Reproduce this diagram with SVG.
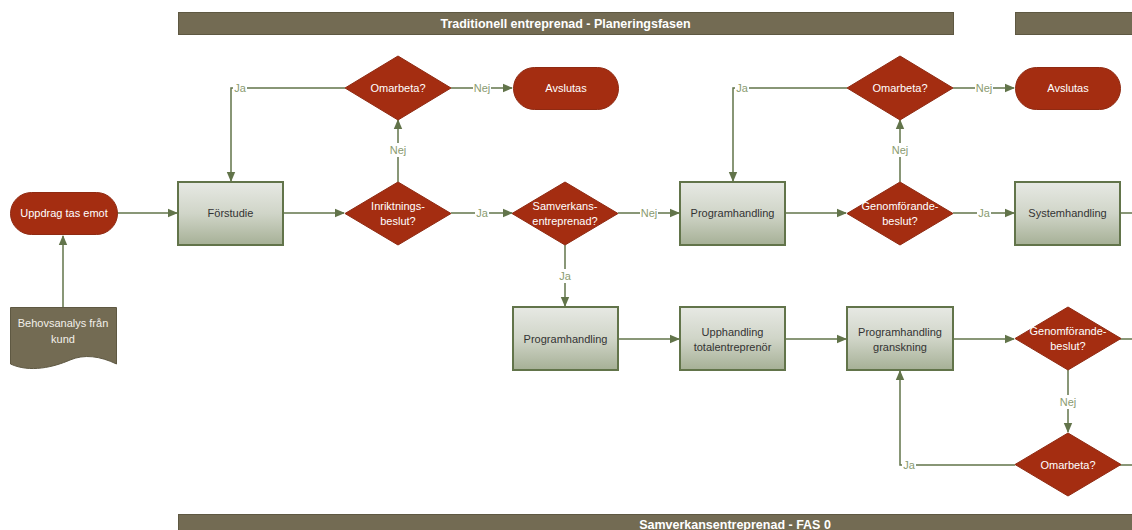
<svg xmlns="http://www.w3.org/2000/svg" width="1132" height="530" viewBox="0 0 1132 530">
  <style>
    .banner { fill: #736b53; stroke: #5e5842; stroke-width: 1; }
    .banner-text { font-family: "Liberation Sans", Arial, sans-serif; font-size: 12.5px; font-weight: bold; fill: #ffffff; text-anchor: middle; }
    .proc { fill: url(#procGrad); stroke: #62744a; stroke-width: 2; }
    .decision { fill: #a42d11; stroke: #8f2a12; stroke-width: 1; }
    .term { fill: #a42d11; stroke: #8f2a12; stroke-width: 1; }
    .doc { fill: #736b53; stroke: #5e5842; stroke-width: 1; }
    .t-dark { font-family: "Liberation Sans", Arial, sans-serif; font-size: 11px; fill: #333333; text-anchor: middle; }
    .t-light { font-family: "Liberation Sans", Arial, sans-serif; font-size: 11px; fill: #ffffff; text-anchor: middle; }
    .t-doc { font-family: "Liberation Sans", Arial, sans-serif; font-size: 11px; fill: #f2f0ea; text-anchor: middle; }
    .edge { fill: none; stroke: #62744a; stroke-width: 1.5; }
    .arrow { fill: none; stroke: #62744a; stroke-width: 1.5; marker-end: url(#arrowHead); }
    .lbl-bg { fill: #ffffff; }
    .lbl { font-family: "Liberation Sans", Arial, sans-serif; font-size: 11px; fill: #8a9b70; text-anchor: middle; }
  </style>
  <defs>
    <linearGradient id="procGrad" x1="0" y1="0" x2="0" y2="1">
      <stop offset="0" stop-color="#e7e9e4"/>
      <stop offset="0.5" stop-color="#d0d5c8"/>
      <stop offset="1" stop-color="#a6b096"/>
    </linearGradient>
    <marker id="arrowHead" markerWidth="10" markerHeight="10" refX="9" refY="5" orient="auto" markerUnits="userSpaceOnUse">
      <path d="M0,0.8 L10,5 L0,9.2 Z" fill="#62744a"/>
    </marker>
  </defs>

  <!-- Phase banners -->
  <g id="banner-planering">
    <rect class="banner" x="178.5" y="12.5" width="775" height="22"/>
    <text class="banner-text" x="565.5" y="28">Traditionell entreprenad - Planeringsfasen</text>
  </g>
  <g id="banner-right">
    <rect class="banner" x="1015.5" y="12.5" width="130" height="22"/>
  </g>
  <g id="banner-fas0">
    <rect class="banner" x="178.5" y="514.5" width="970" height="30"/>
    <text class="banner-text" x="735" y="528.5" font-size="12.5">Samverkansentreprenad - FAS 0</text>
  </g>

  <!-- Connectors -->
  <g id="connectors">
    <path class="arrow" d="M63,307 L63,236"/>
    <path class="arrow" d="M117,213 L177,213"/>
    <path class="arrow" d="M283,213 L344,213"/>
    <path class="arrow" d="M398,182 L398,120"/>
    <path class="arrow" d="M345,88 L231,88 L231,181"/>
    <path class="arrow" d="M451,88 L512,88"/>
    <path class="arrow" d="M451,213 L512,213"/>
    <path class="arrow" d="M618,213 L679,213"/>
    <path class="arrow" d="M565,245 L565,306"/>
    <path class="arrow" d="M785,213 L846,213"/>
    <path class="arrow" d="M900,182 L900,120"/>
    <path class="arrow" d="M847,88 L733,88 L733,181"/>
    <path class="arrow" d="M953,88 L1014,88"/>
    <path class="arrow" d="M953,213 L1014,213"/>
    <path class="edge" d="M1120,213 L1132,213"/>
    <path class="arrow" d="M618,339 L679,339"/>
    <path class="arrow" d="M785,339 L846,339"/>
    <path class="arrow" d="M953,339 L1014,339"/>
    <path class="edge" d="M1120,339 L1132,339"/>
    <path class="arrow" d="M1068,370 L1068,432"/>
    <path class="arrow" d="M1015,465 L900,465 L900,371"/>
    <path class="edge" d="M1120,465 L1132,465"/>

    <!-- connector labels -->
    <rect class="lbl-bg" x="390" y="143" width="17" height="14"/>
    <text class="lbl" x="398" y="154">Nej</text>
    <rect class="lbl-bg" x="233" y="81" width="14" height="14"/>
    <text class="lbl" x="240" y="92">Ja</text>
    <rect class="lbl-bg" x="473" y="81" width="18" height="14"/>
    <text class="lbl" x="482" y="92">Nej</text>
    <rect class="lbl-bg" x="475" y="206" width="14" height="14"/>
    <text class="lbl" x="482" y="217">Ja</text>
    <rect class="lbl-bg" x="640" y="206" width="18" height="14"/>
    <text class="lbl" x="649" y="217">Nej</text>
    <rect class="lbl-bg" x="558" y="269" width="14" height="14"/>
    <text class="lbl" x="565" y="280">Ja</text>
    <rect class="lbl-bg" x="892" y="143" width="17" height="14"/>
    <text class="lbl" x="900" y="154">Nej</text>
    <rect class="lbl-bg" x="735" y="81" width="14" height="14"/>
    <text class="lbl" x="742" y="92">Ja</text>
    <rect class="lbl-bg" x="975" y="81" width="18" height="14"/>
    <text class="lbl" x="984" y="92">Nej</text>
    <rect class="lbl-bg" x="977" y="206" width="14" height="14"/>
    <text class="lbl" x="984" y="217">Ja</text>
    <rect class="lbl-bg" x="1060" y="395" width="17" height="14"/>
    <text class="lbl" x="1068" y="406">Nej</text>
    <rect class="lbl-bg" x="902" y="458" width="14" height="14"/>
    <text class="lbl" x="909" y="469">Ja</text>
  </g>

  <!-- Nodes -->
  <g id="uppdrag">
    <rect class="term" x="10.5" y="192.5" width="107" height="42" rx="21" ry="21"/>
    <text class="t-light" x="64" y="217">Uppdrag tas emot</text>
  </g>
  <g id="behovsanalys">
    <path class="doc" d="M10.5,307.5 L116.5,307.5 L116.5,364 C100,356 84,354 70,360 C54,367 30,373 10.5,364 Z"/>
    <text class="t-doc" x="63" y="327">Behovsanalys från</text>
    <text class="t-doc" x="63" y="343">kund</text>
  </g>
  <g id="forstudie">
    <rect class="proc" x="178" y="182" width="105" height="63"/>
    <text class="t-dark" x="230.5" y="217">Förstudie</text>
  </g>
  <g id="inriktningsbeslut">
    <polygon class="decision" points="398,182 451,213.5 398,245 345,213.5"/>
    <text class="t-light" x="398" y="210">Inriktnings-</text>
    <text class="t-light" x="398" y="225">beslut?</text>
  </g>
  <g id="omarbeta-1">
    <polygon class="decision" points="398,56 451,88 398,120 345,88"/>
    <text class="t-light" x="398" y="92">Omarbeta?</text>
  </g>
  <g id="avslutas-1">
    <rect class="term" x="513.5" y="67.5" width="105" height="42" rx="21" ry="21"/>
    <text class="t-light" x="566" y="92">Avslutas</text>
  </g>
  <g id="samverkans">
    <polygon class="decision" points="565,182 618,213.5 565,245 512,213.5"/>
    <text class="t-light" x="565" y="210">Samverkans-</text>
    <text class="t-light" x="565" y="225">entreprenad?</text>
  </g>
  <g id="programhandling-1">
    <rect class="proc" x="680" y="182" width="105" height="63"/>
    <text class="t-dark" x="732.5" y="217">Programhandling</text>
  </g>
  <g id="genomforande-1">
    <polygon class="decision" points="900,182 953,213.5 900,245 847,213.5"/>
    <text class="t-light" x="900" y="210">Genomförande-</text>
    <text class="t-light" x="900" y="225">beslut?</text>
  </g>
  <g id="omarbeta-2">
    <polygon class="decision" points="900,56 953,88 900,120 847,88"/>
    <text class="t-light" x="900" y="92">Omarbeta?</text>
  </g>
  <g id="avslutas-2">
    <rect class="term" x="1015.5" y="67.5" width="105" height="42" rx="21" ry="21"/>
    <text class="t-light" x="1068" y="92">Avslutas</text>
  </g>
  <g id="systemhandling">
    <rect class="proc" x="1015" y="182" width="105" height="63"/>
    <text class="t-dark" x="1067.5" y="217">Systemhandling</text>
  </g>
  <g id="programhandling-2">
    <rect class="proc" x="513" y="307" width="105" height="63"/>
    <text class="t-dark" x="565.5" y="343">Programhandling</text>
  </g>
  <g id="upphandling">
    <rect class="proc" x="680" y="307" width="105" height="63"/>
    <text class="t-dark" x="732.5" y="336">Upphandling</text>
    <text class="t-dark" x="732.5" y="351">totalentreprenör</text>
  </g>
  <g id="granskning">
    <rect class="proc" x="847" y="307" width="106" height="63"/>
    <text class="t-dark" x="900" y="336">Programhandling</text>
    <text class="t-dark" x="900" y="351">granskning</text>
  </g>
  <g id="genomforande-2">
    <polygon class="decision" points="1068,307 1121,338.5 1068,370 1015,338.5"/>
    <text class="t-light" x="1068" y="335">Genomförande-</text>
    <text class="t-light" x="1068" y="350">beslut?</text>
  </g>
  <g id="omarbeta-3">
    <polygon class="decision" points="1068,433 1121,464.5 1068,496 1015,464.5"/>
    <text class="t-light" x="1068" y="469">Omarbeta?</text>
  </g>
</svg>
